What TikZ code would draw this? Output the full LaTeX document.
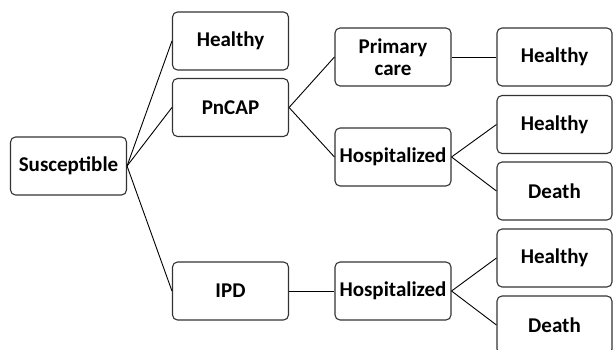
\documentclass[tikz,border=0pt]{standalone}
\usepackage{fontspec}
\setmainfont{Carlito}
\begin{document}
\begin{tikzpicture}[x=1pt,y=-1pt,
  box/.style={draw=black!80, line width=1.1pt, rounded corners=5pt, minimum width=116pt, minimum height=58pt, inner sep=0pt, align=center, font=\fontsize{21}{22}\selectfont\bfseries},
  link/.style={draw=black, line width=0.9pt}]
\path[use as bounding box] (0,0) rectangle (613,350);
\clip (0,0) rectangle (613,350);
\node[box] (sus) at (68.5,166) {Susceptible};
\node[box] (h1) at (230.5,41) {Healthy};
\node[box] (pn) at (230.5,107.5) {PnCAP};
\node[box] (ipd) at (230.5,291) {IPD};
\node[box] (pc) at (393,57) {Primary\\care};
\node[box] (hosp1) at (393,157) {Hospitalized};
\node[box] (hosp2) at (393,291) {Hospitalized};
\node[box, minimum width=115pt] (rh1) at (554.5,57) {Healthy};
\node[box, minimum width=115pt] (rh2) at (554.5,124.5) {Healthy};
\node[box, minimum width=115pt] (d1) at (554.5,191) {Death};
\node[box, minimum width=115pt] (rh3) at (554.5,258) {Healthy};
\node[box, minimum width=115pt] (d2) at (554.5,325) {Death};
\draw[link] (sus.east) -- (h1.west);
\draw[link] (sus.east) -- (pn.west);
\draw[link] (sus.east) -- (ipd.west);
\draw[link] (pn.east) -- (pc.west);
\draw[link] (pn.east) -- (hosp1.west);
\draw[link] (pc.east) -- (rh1.west);
\draw[link] (hosp1.east) -- (rh2.west);
\draw[link] (hosp1.east) -- (d1.west);
\draw[link] (ipd.east) -- (hosp2.west);
\draw[link] (hosp2.east) -- (rh3.west);
\draw[link] (hosp2.east) -- (d2.west);
\end{tikzpicture}
\end{document}
